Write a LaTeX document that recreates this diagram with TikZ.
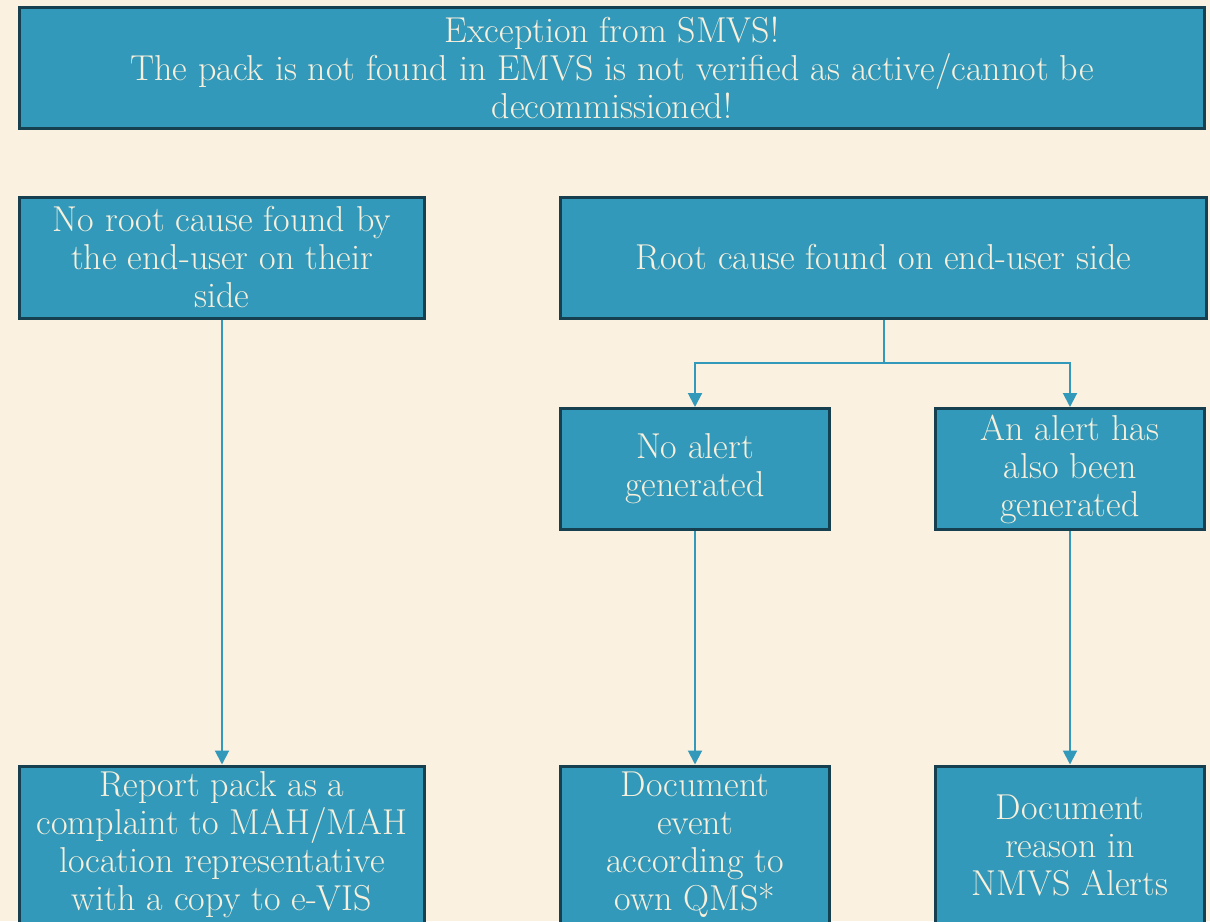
\documentclass[tikz,border=0pt]{standalone}
\usepackage{tikz}
\usetikzlibrary{positioning,arrows.meta}
\definecolor{paper}{HTML}{FAF1E1}
\definecolor{boxfill}{HTML}{3399BA}
\definecolor{boxline}{HTML}{16404F}
\definecolor{boxtext}{HTML}{F8F0DC}

\begin{document}
\begin{tikzpicture}[x=0.5pt,y=-0.5pt]
  \tikzset{
    stage/.style={draw=boxline,line width=1.5pt,fill=boxfill,text=boxtext,
                  font=\fontsize{18}{19}\selectfont,align=center,inner sep=0pt,
                  minimum height=60.5pt},
    wide/.style={stage,minimum width=202.5pt},
    narrow/.style={stage,minimum width=134.5pt},
    tall/.style={minimum height=79pt},
    flow/.style={draw=boxfill,line width=1pt,-{Triangle[width=7pt,length=7pt]}},
  }
  \fill[paper] (0,0) rectangle (1210,921);
  \clip (0,0) rectangle (1210,921);
  % ---- exception ----
  \node[stage,minimum width=592.5pt] (exc) at (612,68)
       {Exception from SMVS!\\The pack is not found in EMVS is not verified as active/cannot be\\decommissioned!};
  % ---- causes ----
  \node[wide] (noroot) at (222,257.5) {No root cause found by\\the end-user on their\\side};
  \node[stage,minimum width=323pt] (root) at (883.5,257.5) {Root cause found on end-user side};
  \node[narrow] (noalert) at (695,469) {No alert\\generated};
  \node[narrow] (alert) at (1070,469) {An alert has\\also been\\generated};
  % ---- actions ----
  \node[wide,tall] (report) at (222,845)
       {Report pack as a\\complaint to MAH/MAH\\location representative\\with a copy to e-VIS};
  \node[narrow,tall] (doc) at (695,845) {Document\\event\\according to\\own QMS*};
  \node[narrow,tall] (nmvs) at (1070,845) {Document\\reason in\\NMVS Alerts};
  % ---- connectors ----
  \coordinate (split) at (883.5,363);
  \draw[flow] (noroot.south) -- (report.north);
  \draw[draw=boxfill,line width=1pt] (root.south) -- (split);
  \draw[flow] (split) -| (noalert.north);
  \draw[flow] (split) -| (alert.north);
  \draw[flow] (noalert.south) -- (doc.north);
  \draw[flow] (alert.south) -- (nmvs.north);
\end{tikzpicture}
\end{document}
